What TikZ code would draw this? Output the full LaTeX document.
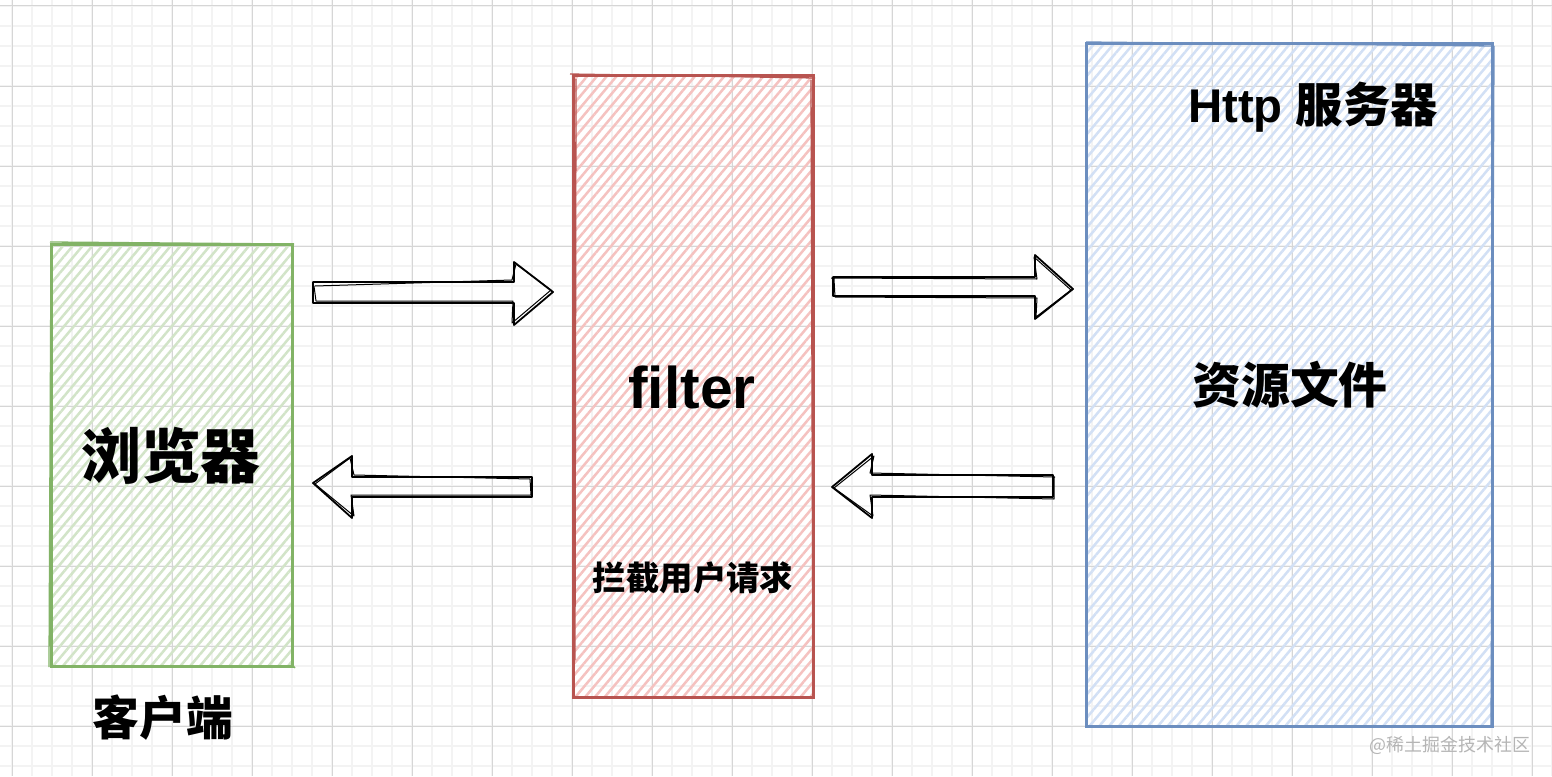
\documentclass[tikz,border=0pt]{standalone}
\usepackage{fontspec}
\setmainfont{Liberation Sans}
\newfontfamily\cjk{Noto Sans CJK SC}
\usetikzlibrary{patterns.meta}
\definecolor{gridmajor}{HTML}{D6D6D6}
\definecolor{gridminor}{HTML}{F3F3F3}
\definecolor{gstroke}{HTML}{82B366}
\definecolor{ghatch}{HTML}{D2E4C8}
\definecolor{rstroke}{HTML}{B85450}
\definecolor{rhatch}{HTML}{F5C2C0}
\definecolor{bstroke}{HTML}{6C8EBF}
\definecolor{bhatch}{HTML}{D2E0F5}
\definecolor{wmark}{HTML}{B5B5B5}
\tikzset{
  minorline/.style={gridminor, line width=1.4bp},
  majorline/.style={gridmajor, line width=1bp},
  hatchbox/.style={rectangle, inner sep=0pt, line width=3bp,
    pattern={Lines[angle=50,distance=7.5bp,line width=2.5bp]}},
  sketchline/.style={line width=1.3bp},
  blockarrow/.style={draw=black, line width=1.8bp, line join=round},
  blockarrowb/.style={draw=black, line width=1bp, line join=round},
  bigcjk/.style={font=\cjk\bfseries\fontsize{60}{60}\selectfont, inner sep=0pt},
}
\begin{document}
\begin{tikzpicture}[x=1bp,y=-1bp]
\useasboundingbox (0,0) rectangle (1552,776);
\fill[white] (0,0) rectangle (1552,776);
% grid
\foreach \x in {12,32,...,1552} \draw[minorline] (\x,0) -- (\x,776);
\foreach \y in {6,26,...,776} \draw[minorline] (0,\y) -- (1552,\y);
\foreach \x in {12,92,...,1552} \draw[majorline] (\x,0) -- (\x,776);
\foreach \y in {6,86,...,776} \draw[majorline] (0,\y) -- (1552,\y);

% boxes
\node[hatchbox, draw=gstroke, pattern color=ghatch, minimum width=240bp, minimum height=422bp] (browser) at (172,455) {};
\draw[gstroke, sketchline] (50,242) -- (294,244);
\draw[gstroke, sketchline] (51,246) -- (49,667);
\draw[gstroke, sketchline] (292,664) -- (295,668);

\node[hatchbox, draw=rstroke, pattern color=rhatch, minimum width=240bp, minimum height=621bp] (filterbox) at (693,386.5) {};
\draw[rstroke, sketchline] (570,74) -- (815,78);
\draw[rstroke, sketchline] (576,79) -- (575,660);
\draw[rstroke, sketchline] (811,80) -- (813,698);

\node[hatchbox, draw=bstroke, pattern color=bhatch, minimum width=406bp, minimum height=682bp] (server) at (1289,385) {};
\draw[bstroke, sketchline] (1086,42) -- (1494,46);
\draw[bstroke, sketchline] (1494,46) -- (1491,727);

% texts
\node[bigcjk] (tbrowser) at (171,456) {浏览器};
\node[font=\cjk\bfseries\fontsize{47}{47}\selectfont, inner sep=0pt] (tclient) at (163,718) {客户端};
\node[font=\bfseries\fontsize{59}{59}\selectfont, inner sep=0pt, anchor=base] (tfilter) at (692,408) {filter};
\node[font=\cjk\bfseries\fontsize{33.5}{33.5}\selectfont, inner sep=0pt] (tintercept) at (693,578) {拦截用户请求};
\node[inner sep=0pt, anchor=base] (thttp) at (1313,122) {\fontsize{47.5}{47.5}\selectfont\bfseries Http {\cjk 服务器}};
\node[font=\cjk\bfseries\fontsize{49}{49}\selectfont, inner sep=0pt] (tres) at (1290,385) {资源文件};
\node[font=\cjk\fontsize{18}{18}\selectfont, text=wmark, inner sep=0pt] (wm) at (1450,745) {@稀土掘金技术社区};

% arrows: browser -> filter
\draw[blockarrow] (313,282) -- (514,282) -- (514,262) -- (553,292) -- (514,325) -- (514,303) -- (313,303) -- cycle;
\draw[blockarrowb] (315,286) -- (512,280) -- (516,264) -- (551,290) -- (512,323) -- (513,301) -- (316,301) -- (314,286);
% filter -> browser
\draw[blockarrow] (532,477) -- (352,477) -- (352,456) -- (313,483) -- (352,518) -- (352,497) -- (532,497) -- cycle;
\draw[blockarrowb] (530,479) -- (354,475) -- (350,458) -- (315,484) -- (354,516) -- (351,495) -- (531,495) -- (530,479);
% filter -> server
\draw[blockarrow] (833,277) -- (1035,277) -- (1035,255) -- (1073,289) -- (1035,319) -- (1035,296) -- (833,296) -- cycle;
\draw[blockarrowb] (831,278) -- (1037,279) -- (1034,257) -- (1071,290) -- (1036,317) -- (1037,298) -- (835,297) -- (834,279);
% server -> filter
\draw[blockarrow] (1053,475) -- (872,475) -- (872,454) -- (832,487) -- (872,518) -- (872,497) -- (1053,497) -- cycle;
\draw[blockarrowb] (1055,477) -- (870,473) -- (874,456) -- (834,488) -- (873,516) -- (870,495) -- (1054,499) -- (1054,477);
\end{tikzpicture}
\end{document}
